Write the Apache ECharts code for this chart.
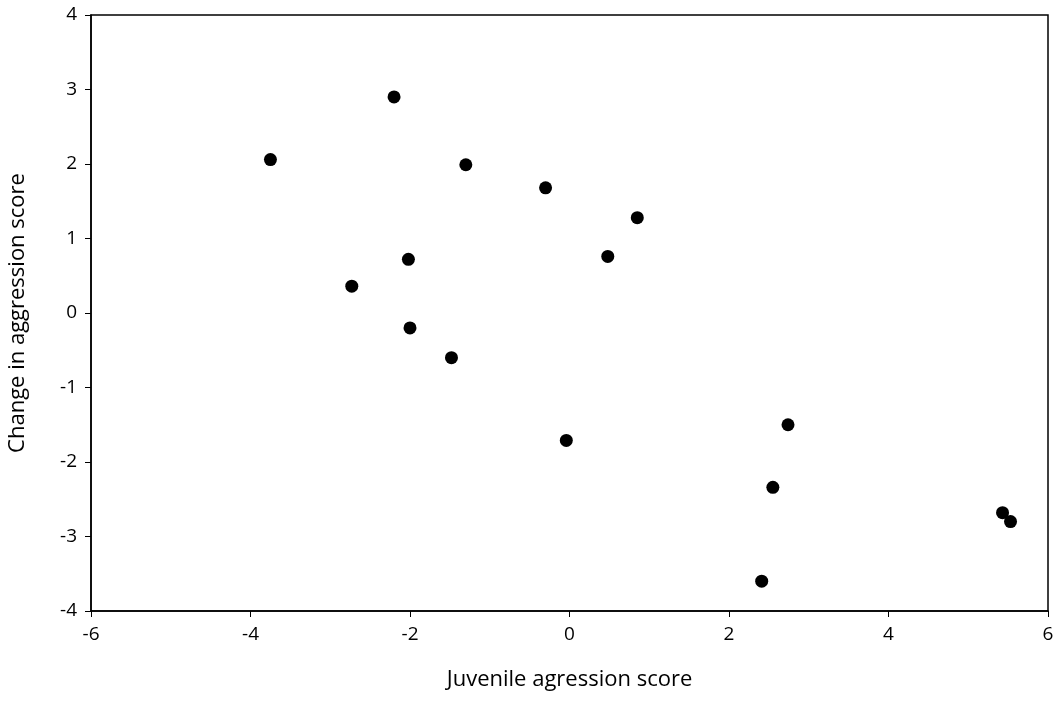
<!DOCTYPE html>
<html>
<head>
<meta charset="utf-8">
<script src="https://cdn.jsdelivr.net/npm/echarts@6/dist/echarts.min.js"></script>
<style>
  html, body { margin: 0; padding: 0; background: #fff; }
  #chart { width: 1059px; height: 705px; }
</style>
</head>
<body>
<div id="chart"></div>
<script>
// Juvenile aggression score vs change in aggression score
const juvenileScore = [-3.75, -2.73, -2.20, -1.30, -0.30, 0.85, 0.48, -2.02, -2.00, -1.48, -0.04, 2.74, 2.55, 2.41, 5.43, 5.53];
const changeScore = [2.06, 0.36, 2.90, 1.99, 1.68, 1.28, 0.76, 0.72, -0.20, -0.60, -1.71, -1.50, -2.34, -3.60, -2.68, -2.80];

const xTitle = 'Juvenile agression score';
const yTitle = 'Change in aggression score';

const points = juvenileScore.map((x, i) => [x, changeScore[i]]);

const font = '"Open Sans", sans-serif';
const axisText = { color: '#000', fontSize: 19, fontFamily: font };
const titleText = { color: '#000', fontSize: 22, fontFamily: font };

const chart = echarts.init(document.getElementById('chart'), null, { renderer: 'canvas' });
chart.setOption({
  animation: false,
  grid: {
    left: 91, right: 11, top: 15, bottom: 94,
    outerBoundsMode: 'none',
    show: true, borderColor: '#000', borderWidth: 1.5, backgroundColor: 'transparent'
  },
  xAxis: {
    type: 'value', min: -6, max: 6, interval: 2,
    name: xTitle, nameLocation: 'middle', nameGap: 58,
    nameTextStyle: titleText,
    axisLine: { show: true, onZero: false, lineStyle: { color: '#000', width: 1.5 } },
    axisTick: { show: true, inside: false, length: 6, lineStyle: { color: '#000', width: 1 } },
    axisLabel: { ...axisText, margin: 14 },
    splitLine: { show: false }
  },
  yAxis: {
    type: 'value', min: -4, max: 4, interval: 1,
    name: yTitle, nameLocation: 'middle', nameGap: 62, nameRotate: 90,
    nameTextStyle: titleText,
    axisLine: { show: true, onZero: false, lineStyle: { color: '#000', width: 1.5 } },
    axisTick: { show: true, inside: false, length: 6, lineStyle: { color: '#000', width: 1 } },
    axisLabel: { ...axisText, margin: 14 },
    splitLine: { show: false }
  },
  series: [{
    type: 'scatter',
    data: points,
    symbol: 'circle',
    symbolSize: 13,
    itemStyle: { color: '#000', opacity: 1 }
  }]
});
</script>
</body>
</html>
